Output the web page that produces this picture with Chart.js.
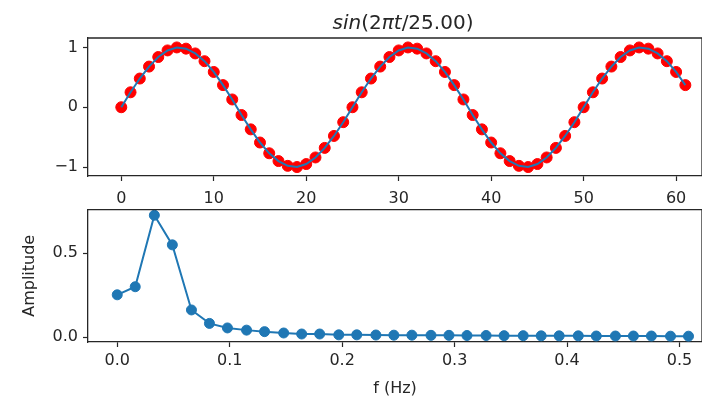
<!DOCTYPE html>
<html>
<head>
<meta charset="utf-8">
<script src="https://cdn.jsdelivr.net/npm/chart.js@4/dist/chart.umd.min.js"></script>
<style>
  body { margin: 0; background: #fff; width: 702px; height: 396px; position: relative; overflow: hidden; }
  canvas { position: absolute; left: 0; }
</style>
</head>
<body>
<canvas id="sineChart" width="702" height="205" style="top:0"></canvas>
<canvas id="fftChart" width="702" height="201" style="top:195px"></canvas>
<script>
// time samples and the sampled signal
const t = [0,1,2,3,4,5,6,7,8,9,10,11,12,13,14,15,16,17,18,19,20,21,22,23,24,25,26,27,28,29,30,
  31,32,33,34,35,36,37,38,39,40,41,42,43,44,45,46,47,48,49,50,51,52,53,54,55,56,57,58,59,60,61];
const signal = [0.00,0.25,0.48,0.68,0.84,0.95,1.00,0.98,0.90,0.77,0.59,0.37,0.13,-0.13,-0.37,-0.59,
  -0.77,-0.90,-0.98,-1.00,-0.95,-0.84,-0.68,-0.48,-0.25,
  0.00,0.25,0.48,0.68,0.84,0.95,1.00,0.98,0.90,0.77,0.59,0.37,0.13,-0.13,-0.37,-0.59,
  -0.77,-0.90,-0.98,-1.00,-0.95,-0.84,-0.68,-0.48,-0.25,
  0.00,0.25,0.48,0.68,0.84,0.95,1.00,0.98,0.90,0.77,0.59,0.37];

// spectrum
const freq = [0,0.016,0.033,0.049,0.066,0.082,0.098,0.115,0.131,0.148,0.164,0.180,0.197,0.213,0.230,0.246,
  0.262,0.279,0.295,0.311,0.328,0.344,0.361,0.377,0.393,0.410,0.426,0.443,0.459,0.475,0.492,0.508];
const amplitude = [0.252,0.300,0.725,0.549,0.162,0.082,0.055,0.042,0.033,0.025,0.019,0.019,0.014,
  0.014,0.013,0.012,0.012,0.011,0.011,0.010,0.010,0.009,0.009,0.008,0.008,0.008,0.007,0.007,0.007,0.007,0.006,0.006];

// tick labels
const tTicks = [0,10,20,30,40,50,60];
const signalTicks = [-1,0,1];
const freqTicks = [0,0.1,0.2,0.3,0.4,0.5];
const ampTicks = [0,0.5];

// title pieces: [text, italic]
const titleParts = [['sin',true],['(',false],['2',false],['π',true],['t',true],['/25.00)',false]];

const FONT = 'DejaVu Sans';
const INK = '#262626';
const BLUE = '#1f77b4';
const RED = '#ff0000';

// top + right spines (the scales draw left + bottom)
const frame = {
  id: 'frame',
  afterDraw(chart) {
    const {ctx, chartArea: a} = chart;
    ctx.save();
    ctx.strokeStyle = INK;
    ctx.lineWidth = 1.3;
    ctx.beginPath();
    ctx.moveTo(a.left, a.top);
    ctx.lineTo(a.right, a.top);
    ctx.lineTo(a.right, a.bottom);
    ctx.stroke();
    ctx.restore();
  }
};

const mathTitle = {
  id: 'mathTitle',
  afterDraw(chart) {
    const ctx = chart.ctx;
    ctx.save();
    ctx.fillStyle = INK;
    ctx.textBaseline = 'alphabetic';
    ctx.textAlign = 'left';
    const fontOf = (it) => (it ? 'italic ' : '') + '20px "' + FONT + '"';
    let total = 0;
    titleParts.forEach(([s, it]) => { ctx.font = fontOf(it); total += ctx.measureText(s).width; });
    let x = 403 - total / 2;
    titleParts.forEach(([s, it]) => {
      ctx.font = fontOf(it);
      ctx.fillText(s, x, 29);
      x += ctx.measureText(s).width;
    });
    ctx.restore();
  }
};

const tickFont = { family: FONT, size: 16 };
const axisBase = (ticks, fmt, pad) => ({
  type: 'linear',
  afterBuildTicks: (ax) => { ax.ticks = ticks.map(v => ({ value: v })); },
  grid: { drawOnChartArea: false, drawTicks: true, tickLength: 5, tickColor: INK, tickWidth: 1.2 },
  border: { display: true, color: INK, width: 1.3 },
  ticks: { font: tickFont, color: INK, padding: pad, maxRotation: 0, autoSkip: false, callback: fmt }
});
const minus = (v) => (v < 0 ? '\u2212' + Math.abs(v) : String(v));

new Chart(document.getElementById('sineChart').getContext('2d'), {
  type: 'line',
  data: {
    datasets: [
      { data: t.map((x, i) => ({ x, y: signal[i] })), borderColor: BLUE, borderWidth: 2,
        pointRadius: 0, tension: 0, order: 0 },
      { data: t.map((x, i) => ({ x, y: signal[i] })), showLine: false, pointRadius: 5.5,
        pointBackgroundColor: RED, pointBorderColor: RED, pointBorderWidth: 1, order: 1 }
    ]
  },
  options: {
    responsive: false, animation: false, devicePixelRatio: 1,
    layout: { autoPadding: false, padding: { top: 38, left: 0, right: 0, bottom: 0 } },
    plugins: { legend: { display: false }, tooltip: { enabled: false } },
    scales: {
      x: Object.assign(axisBase(tTicks, minus, 8), { min: -3.6, max: 62.8,
        afterFit: (ax) => { ax.height = 29; } }),
      y: Object.assign(axisBase(signalTicks, minus, 5), { min: -1.15, max: 1.158,
        afterFit: (ax) => { ax.width = 88; } })
    }
  },
  plugins: [frame, mathTitle]
});

new Chart(document.getElementById('fftChart').getContext('2d'), {
  type: 'line',
  data: {
    datasets: [
      { data: freq.map((x, i) => ({ x, y: amplitude[i] })), borderColor: BLUE, borderWidth: 2,
        pointRadius: 5, pointBackgroundColor: BLUE, pointBorderColor: BLUE, pointBorderWidth: 1, tension: 0 }
    ]
  },
  options: {
    responsive: false, animation: false, devicePixelRatio: 1,
    layout: { autoPadding: false, padding: { top: 9, left: 0, right: 0, bottom: 0 } },
    plugins: { legend: { display: false }, tooltip: { enabled: false } },
    scales: {
      x: Object.assign(axisBase(freqTicks, (v) => v.toFixed(1), 4), { min: -0.026, max: 0.52,
        title: { display: true, text: 'f (Hz)', font: { family: FONT, size: 16, lineHeight: 0.9 }, color: INK,
          padding: { top: 0, bottom: 0 } },
        afterFit: (ax) => { ax.height = 54; } }),
      y: Object.assign(axisBase(ampTicks, (v) => v.toFixed(1), 5), { min: -0.0286, max: 0.7587,
        title: { display: true, text: 'Amplitude', font: tickFont, color: INK, padding: { top: 20, bottom: 0 } },
        afterFit: (ax) => { ax.width = 88; } })
    }
  },
  plugins: [frame]
});
</script>
</body>
</html>
